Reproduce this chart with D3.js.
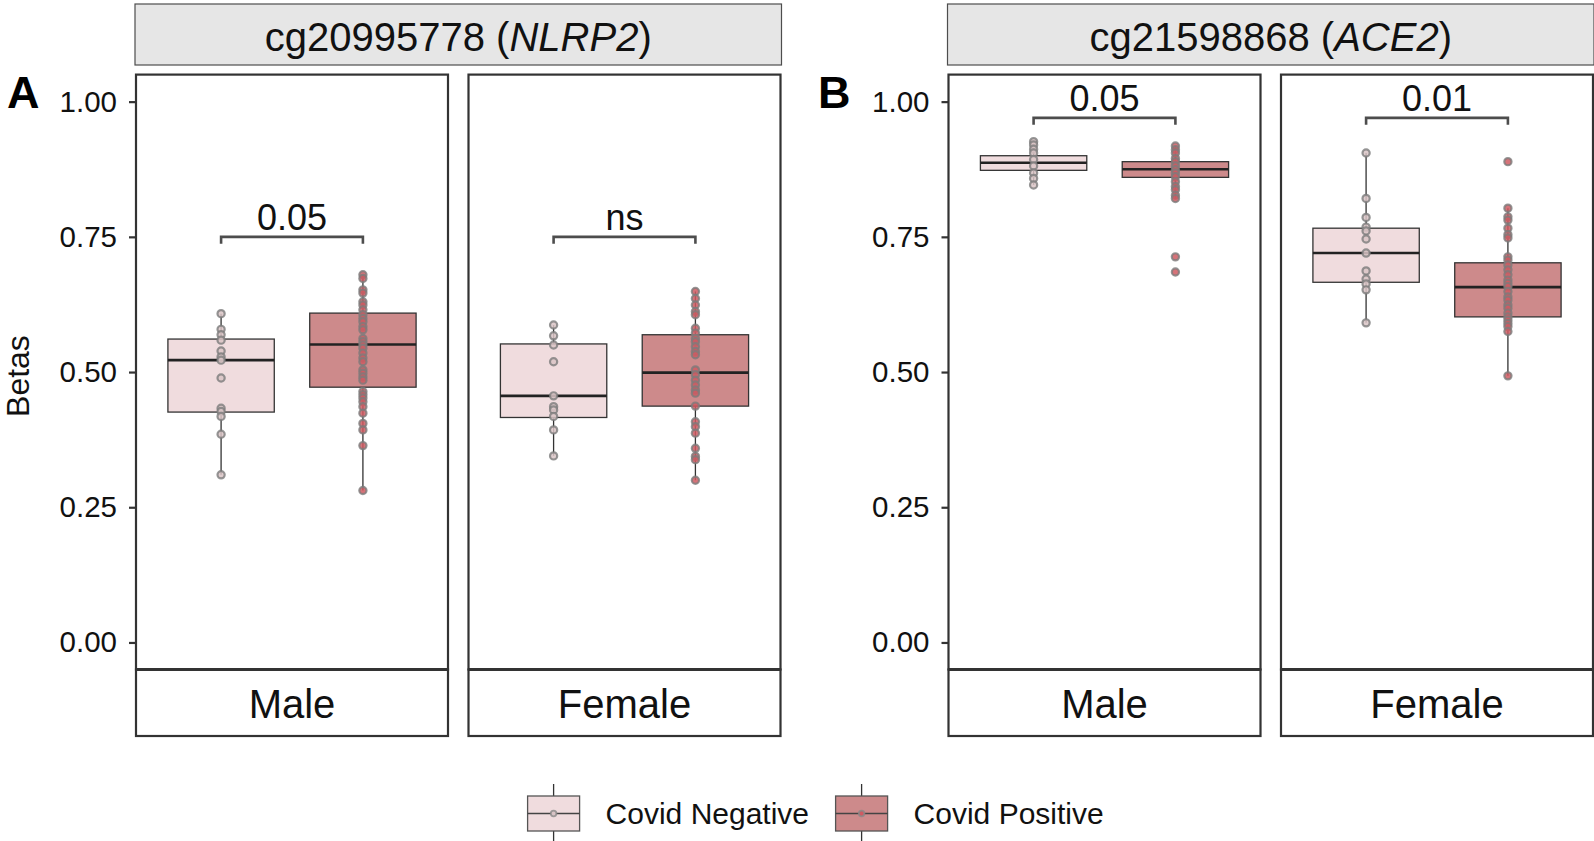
<!DOCTYPE html>
<html><head><meta charset="utf-8">
<script src="https://cdn.jsdelivr.net/npm/d3@7"></script>
<style>body{margin:0;background:#fff}svg{display:block;font-family:"Liberation Sans",Arial,Helvetica,sans-serif}</style>
</head><body><svg id="chart" width="1594" height="841"></svg>
<script>
// ---- data ----
const probes = ["cg20995778", "cg21598868"];
const genes = ["NLRP2", "ACE2"];
const panelTags = ["A", "B"];
const sexes = ["Male", "Female"];
const groups = ["Covid Negative", "Covid Positive"];
const yTicks = [0, 0.25, 0.5, 0.75, 1.0];

// box order: A-Male-Neg, A-Male-Pos, A-Female-Neg, A-Female-Pos, B-Male-Neg, B-Male-Pos, B-Female-Neg, B-Female-Pos
const boxQ1     = [0.426, 0.472, 0.416, 0.437, 0.873, 0.860, 0.666, 0.602];
const boxMedian = [0.522, 0.551, 0.456, 0.499, 0.887, 0.875, 0.720, 0.657];
const boxQ3     = [0.561, 0.609, 0.552, 0.569, 0.900, 0.889, 0.766, 0.702];
const whiskLo   = [0.310, 0.281, 0.345, 0.300, 0.846, 0.821, 0.591, 0.493];
const whiskHi   = [0.608, 0.680, 0.587, 0.649, 0.926, 0.918, 0.905, 0.803];

const ptsAMaleNeg = [0.608, 0.579, 0.569, 0.559, 0.539, 0.528, 0.522, 0.489, 0.433, 0.427, 0.418, 0.385, 0.310];
const ptsAMalePos = [0.680, 0.673, 0.652, 0.646, 0.630, 0.624, 0.615, 0.606, 0.599, 0.593, 0.584, 0.578, 0.562, 0.556, 0.550, 0.544, 0.535, 0.526, 0.519, 0.504, 0.498, 0.491, 0.485, 0.464, 0.458, 0.452, 0.445, 0.436, 0.424, 0.405, 0.393, 0.364, 0.281];
const ptsAFemaleNeg = [0.587, 0.567, 0.550, 0.519, 0.456, 0.436, 0.430, 0.418, 0.393, 0.345];
const ptsAFemalePos = [0.649, 0.636, 0.624, 0.612, 0.606, 0.581, 0.572, 0.562, 0.556, 0.547, 0.538, 0.532, 0.504, 0.495, 0.485, 0.476, 0.467, 0.461, 0.437, 0.408, 0.399, 0.387, 0.359, 0.344, 0.338, 0.300];
const ptsBMaleNeg = [0.926, 0.920, 0.912, 0.905, 0.893, 0.881, 0.868, 0.858, 0.846];
const ptsBMalePos = [0.918, 0.911, 0.905, 0.895, 0.889, 0.881, 0.874, 0.868, 0.861, 0.852, 0.843, 0.837, 0.827, 0.821, 0.713, 0.685];
const ptsBFemaleNeg = [0.905, 0.821, 0.786, 0.768, 0.761, 0.746, 0.720, 0.687, 0.672, 0.663, 0.652, 0.591];
const ptsBFemalePos = [0.889, 0.803, 0.787, 0.781, 0.766, 0.754, 0.748, 0.713, 0.707, 0.698, 0.689, 0.680, 0.670, 0.664, 0.658, 0.649, 0.639, 0.633, 0.624, 0.618, 0.609, 0.602, 0.596, 0.590, 0.584, 0.575, 0.493];
const allPoints = [ptsAMaleNeg, ptsAMalePos, ptsAFemaleNeg, ptsAFemalePos, ptsBMaleNeg, ptsBMalePos, ptsBFemaleNeg, ptsBFemalePos];

// p-value brackets: A-Male, A-Female, B-Male, B-Female
const pLabels = ["0.05", "ns", "0.05", "0.01"];
const bracketY = [0.75, 0.75, 0.97, 0.97];

// ---- style ----
const fills = ["#F0DCDE", "#CD8A8B"];
const dotFills = ["#D9C4C6", "#CF5A62"];
const dark = "#333333";

const svg = d3.select("#chart");
const figLeft = [136, 948.5];
const panelW = 312, panelGap = 20.5;
const plotTop = 74.6, plotBot = 669.5, stripBot = 736;
const y = d3.scaleLinear().domain([-0.05, 1.05]).range([plotBot, plotTop]);
const x = d3.scaleLinear().domain([0.4, 2.6]).range([0, panelW]);
const boxW = x(1.75) - x(1);

probes.forEach((probe, pi) => {
  const left = figLeft[pi];
  const right = left + 2 * panelW + panelGap;
  // top strip
  svg.append("rect").attr("x", left - 1).attr("y", 4).attr("width", right - left + 2).attr("height", 61)
    .attr("fill", "#E6E6E6").attr("stroke", "#4d4d4d").attr("stroke-width", 1.2);
  const t = svg.append("text").attr("x", (left + right) / 2).attr("y", 51).attr("text-anchor", "middle")
    .attr("font-size", 40).attr("fill", "#111");
  t.append("tspan").text(probe + " (");
  t.append("tspan").attr("font-style", "italic").text(genes[pi]);
  t.append("tspan").text(")");
  // tag
  svg.append("text").attr("x", pi === 0 ? 7 : 818).attr("y", 108).attr("font-size", 45).attr("font-weight", "bold")
    .text(panelTags[pi]);
  // y axis
  const ax = svg.append("g").attr("transform", `translate(${left},0)`)
    .call(d3.axisLeft(y).tickValues(yTicks).tickFormat(d3.format(".2f")).tickSize(7).tickPadding(12));
  ax.select(".domain").remove();
  ax.selectAll(".tick line").attr("stroke", dark).attr("stroke-width", 2.2);
  ax.selectAll(".tick text").attr("font-size", 29.5).attr("fill", "#111").attr("font-family", "Liberation Sans, Arial, sans-serif");

  sexes.forEach((sex, si) => {
    const px = left + si * (panelW + panelGap);
    const g = svg.append("g").attr("transform", `translate(${px},0)`);
    groups.forEach((grp, gi) => {
      const k = pi * 4 + si * 2 + gi;
      const cx = x(gi + 1);
      // whiskers
      g.append("line").attr("x1", cx).attr("x2", cx).attr("y1", y(boxQ3[k])).attr("y2", y(whiskHi[k]))
        .attr("stroke", dark).attr("stroke-width", 1.3);
      g.append("line").attr("x1", cx).attr("x2", cx).attr("y1", y(boxQ1[k])).attr("y2", y(whiskLo[k]))
        .attr("stroke", dark).attr("stroke-width", 1.3);
      // box
      g.append("rect").attr("x", cx - boxW / 2).attr("width", boxW)
        .attr("y", y(boxQ3[k])).attr("height", y(boxQ1[k]) - y(boxQ3[k]))
        .attr("fill", fills[gi]).attr("stroke", dark).attr("stroke-width", 1.3);
      g.append("line").attr("x1", cx - boxW / 2).attr("x2", cx + boxW / 2)
        .attr("y1", y(boxMedian[k])).attr("y2", y(boxMedian[k]))
        .attr("stroke", "#222").attr("stroke-width", 2.6);
      // points
      g.selectAll(null).data(allPoints[k]).join("circle")
        .attr("cx", cx).attr("cy", d => y(d)).attr("r", 3.6)
        .attr("fill", dotFills[gi]).attr("stroke", "#7c7c7c").attr("stroke-width", 2.2)
        .attr("stroke-opacity", 0.8).attr("fill-opacity", 0.85);
    });
    // bracket
    const bi = pi * 2 + si;
    const by = y(bracketY[bi]);
    g.append("path").attr("d", `M${x(1)},${by + 7}V${by}H${x(2)}V${by + 7}`)
      .attr("fill", "none").attr("stroke", "#4d4d4d").attr("stroke-width", 2.6);
    g.append("text").attr("x", (x(1) + x(2)) / 2).attr("y", by - 7).attr("text-anchor", "middle")
      .attr("font-size", 36).attr("fill", "#111").text(pLabels[bi]);
    // panel border
    g.append("rect").attr("x", 0).attr("y", plotTop).attr("width", panelW).attr("height", plotBot - plotTop)
      .attr("fill", "none").attr("stroke", dark).attr("stroke-width", 2.2);
    // bottom strip
    g.append("rect").attr("x", 0).attr("y", plotBot).attr("width", panelW).attr("height", stripBot - plotBot)
      .attr("fill", "#fff").attr("stroke", dark).attr("stroke-width", 2.2);
    g.append("line").attr("x1", 0).attr("x2", panelW).attr("y1", plotBot).attr("y2", plotBot)
      .attr("stroke", dark).attr("stroke-width", 3);
    g.append("text").attr("x", panelW / 2).attr("y", plotBot + 48).attr("text-anchor", "middle")
      .attr("font-size", 40).attr("fill", "#111").text(sex);
  });
});

// y title
svg.append("text").attr("transform", `translate(29,${(plotTop + plotBot) / 2 + 4}) rotate(-90)`)
  .attr("text-anchor", "middle").attr("font-size", 32).attr("fill", "#111").text("Betas");

// legend
const legX = [527.6, 835.6];
groups.forEach((grp, gi) => {
  const lx = legX[gi], ly = 796, kw = 52, kh = 35;
  const lg = svg.append("g");
  lg.append("line").attr("x1", lx + kw / 2).attr("x2", lx + kw / 2).attr("y1", ly - 12).attr("y2", ly + kh + 12)
    .attr("stroke", dark).attr("stroke-width", 1.3);
  lg.append("rect").attr("x", lx).attr("y", ly).attr("width", kw).attr("height", kh)
    .attr("fill", fills[gi]).attr("stroke", "#555").attr("stroke-width", 1.3);
  lg.append("line").attr("x1", lx).attr("x2", lx + kw).attr("y1", ly + kh / 2).attr("y2", ly + kh / 2)
    .attr("stroke", "#444").attr("stroke-width", 1.5);
  lg.append("circle").attr("cx", lx + kw / 2).attr("cy", ly + kh / 2).attr("r", 2.8)
    .attr("fill", dotFills[gi]).attr("stroke", "#888").attr("stroke-width", 1.8).attr("stroke-opacity", 0.8);
  lg.append("text").attr("x", lx + kw + 26).attr("y", ly + kh / 2 + 10.5).attr("font-size", 30).attr("fill", "#111").text(grp);
});
</script></body></html>
